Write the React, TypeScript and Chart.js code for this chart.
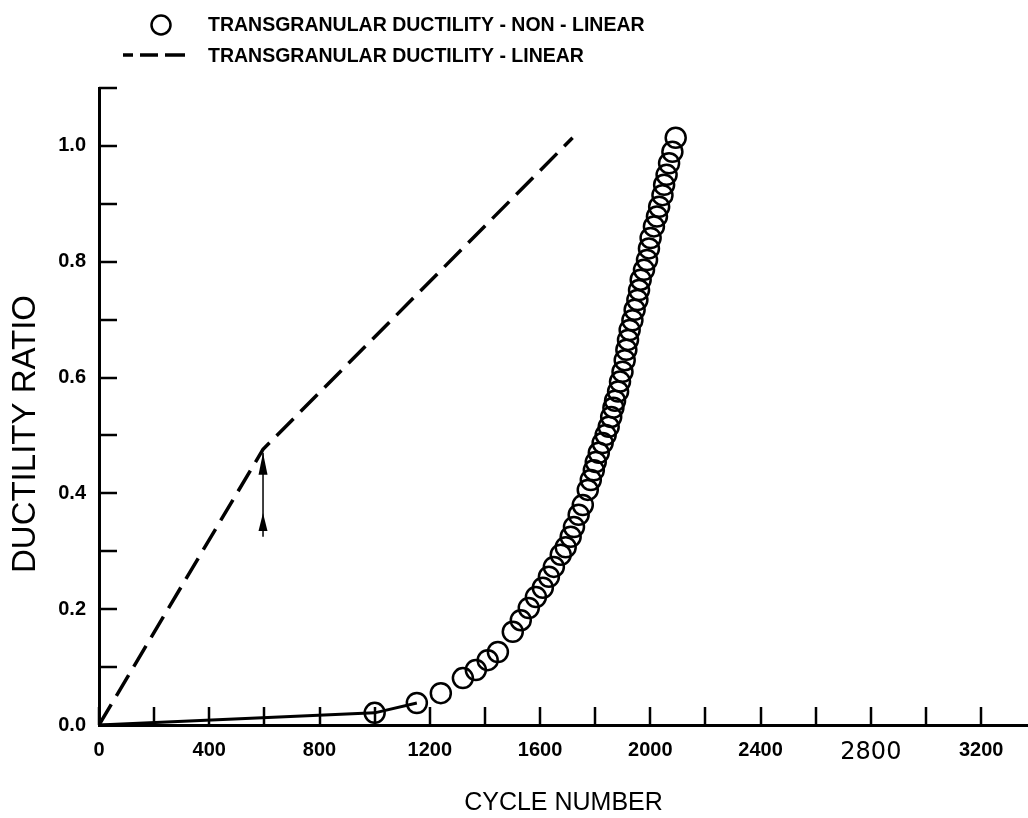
import { useEffect, useRef } from 'react';
import { Chart, registerables } from 'chart.js';

Chart.register(...registerables);

// ---- data ----
const seriesLabels = ['TRANSGRANULAR DUCTILITY - NON - LINEAR', 'TRANSGRANULAR DUCTILITY - LINEAR'];

const nonLinearCycles = [
  1000, 1153, 1240, 1320, 1367, 1410, 1447, 1501, 1530, 1559, 1585, 1610, 1632, 1650, 1675, 1693,
  1711, 1723, 1740, 1755, 1773, 1784, 1795, 1802, 1813, 1827, 1838, 1849, 1858, 1866, 1872, 1883,
  1890, 1899, 1907, 1913, 1919, 1925, 1935, 1943, 1953, 1959, 1965, 1977, 1988, 1995, 2001, 2013,
  2024, 2032, 2044, 2050, 2059, 2068, 2080, 2092,
];
const nonLinearRatio = [
  0.021, 0.038, 0.055, 0.081, 0.095, 0.112, 0.126, 0.161, 0.181, 0.202, 0.221, 0.237, 0.256, 0.273, 0.294, 0.307,
  0.325, 0.342, 0.363, 0.38, 0.406, 0.423, 0.44, 0.454, 0.47, 0.487, 0.501, 0.515, 0.532, 0.548, 0.56, 0.576,
  0.593, 0.61, 0.63, 0.648, 0.665, 0.682, 0.699, 0.717, 0.734, 0.751, 0.769, 0.786, 0.803, 0.823, 0.841, 0.861,
  0.878, 0.895, 0.915, 0.933, 0.95, 0.97, 0.99, 1.014,
];

const solidCycles = [0, 1000, 1153];
const solidRatio = [0, 0.021, 0.038];

const linearCycles = [0, 595, 1718];
const linearRatio = [0, 0.476, 1.014];

const arrowCycle = 595;
const arrowFrom = 0.325;
const arrowHeads = [0.47, 0.366];

const xTickValues = [0, 200, 400, 600, 800, 1000, 1200, 1400, 1600, 1800, 2000, 2200, 2400, 2600, 2800, 3000, 3200];
const xTickLabels = ['0', '400', '800', '1200', '1600', '2000', '2400', '2800', '3200'];
const yTickValues = [0, 0.1, 0.2, 0.3, 0.4, 0.5, 0.6, 0.7, 0.8, 0.9, 1.0, 1.1];
const yTickLabels = ['0.0', '0.2', '0.4', '0.6', '0.8', '1.0'];

const xTitle = 'CYCLE NUMBER';
const yTitle = 'DUCTILITY RATIO';

const FONT = '"Liberation Sans", Arial, Helvetica, sans-serif';

const decorations = {
  id: 'decorations',
  afterDatasetsDraw(chart: any) {
    const { ctx, chartArea } = chart;
    const xs = chart.scales.x;
    const ys = chart.scales.y;
    ctx.save();
    ctx.strokeStyle = '#000';
    ctx.fillStyle = '#000';
    // inward tick marks
    ctx.lineWidth = 2.5;
    xs.ticks.forEach((t: any) => {
      const px = Math.round(xs.getPixelForValue(t.value));
      ctx.beginPath();
      ctx.moveTo(px, chartArea.bottom);
      ctx.lineTo(px, chartArea.bottom - 18);
      ctx.stroke();
    });
    ys.ticks.forEach((t: any) => {
      const py = Math.round(ys.getPixelForValue(t.value));
      ctx.beginPath();
      ctx.moveTo(chartArea.left, py);
      ctx.lineTo(chartArea.left + 18, py);
      ctx.stroke();
    });
    // arrow
    const ax = xs.getPixelForValue(arrowCycle);
    const ay0 = ys.getPixelForValue(arrowFrom);
    const ay1 = ys.getPixelForValue(arrowHeads[0]);
    ctx.lineWidth = 1.5;
    ctx.beginPath();
    ctx.moveTo(ax, ay0);
    ctx.lineTo(ax, ay1);
    ctx.stroke();
    arrowHeads.forEach((v, i) => {
      const tip = ys.getPixelForValue(v);
      const len = i === 0 ? 22 : 18;
      ctx.beginPath();
      ctx.moveTo(ax, tip);
      ctx.lineTo(ax - 4.5, tip + len);
      ctx.lineTo(ax + 4.5, tip + len);
      ctx.closePath();
      ctx.fill();
    });
    ctx.restore();
  },
  afterDraw(chart: any) {
    const { ctx } = chart;
    ctx.save();
    ctx.strokeStyle = '#000';
    ctx.fillStyle = '#000';
    // legend
    ctx.lineWidth = 2.5;
    ctx.beginPath();
    ctx.arc(161, 25, 9.5, 0, Math.PI * 2);
    ctx.stroke();
    ctx.lineWidth = 3.5;
    [[123, 133], [140, 158], [165, 185]].forEach(([a, b]) => {
      ctx.beginPath();
      ctx.moveTo(a, 55);
      ctx.lineTo(b, 55);
      ctx.stroke();
    });
    ctx.font = `bold 19.5px ${FONT}`;
    ctx.textBaseline = 'middle';
    ctx.textAlign = 'left';
    ctx.fillText(chart.data.datasets[0].label, 208, 26);
    ctx.fillText(chart.data.datasets[1].label, 208, 57);
    // y title
    ctx.font = `33px ${FONT}`;
    ctx.translate(26, 434);
    ctx.rotate(-Math.PI / 2);
    ctx.textAlign = 'center';
    ctx.fillText(yTitle, 0, 0);
    ctx.restore();
  },
};

export default function App() {
  const ref = useRef<HTMLCanvasElement>(null);
  useEffect(() => {
    if (!ref.current) return;
    const chart = new Chart(ref.current, {
      type: 'scatter',
      data: {
        datasets: [
          {
            label: seriesLabels[0],
            data: nonLinearCycles.map((x, i) => ({ x, y: nonLinearRatio[i] })),
            showLine: false,
            pointStyle: 'circle',
            pointRadius: 10,
            pointBorderWidth: 2.5,
            borderColor: '#000',
            backgroundColor: 'rgba(0,0,0,0)',
          },
          {
            label: seriesLabels[1],
            data: linearCycles.map((x, i) => ({ x, y: linearRatio[i] })),
            showLine: true,
            borderDash: [24, 10],
            borderWidth: 3.5,
            borderColor: '#000',
            pointRadius: 0,
          },
          {
            label: 'solid',
            data: solidCycles.map((x, i) => ({ x, y: solidRatio[i] })),
            showLine: true,
            borderWidth: 3,
            borderColor: '#000',
            pointRadius: 0,
          },
        ],
      },
      options: {
        responsive: false,
        animation: false,
        devicePixelRatio: 1,
        layout: { autoPadding: false, padding: { top: 88, left: 0, right: 0, bottom: 0 } },
        plugins: { legend: { display: false }, tooltip: { enabled: false } },
        scales: {
          x: {
            type: 'linear',
            min: 0,
            max: 3370,
            afterFit: (s: any) => {
              s.height = 93;
              s.paddingLeft = 0;
              s.paddingRight = 0;
            },
            afterBuildTicks: (s: any) => { s.ticks = xTickValues.map((value) => ({ value })); },
            ticks: {
              padding: 13,
              color: '#000',
              font: (c: any) =>
                c.tick && c.tick.value === 2800
                  ? { family: '"DejaVu Sans", sans-serif', size: 24, weight: 'normal' }
                  : { family: FONT, size: 20, weight: 'bold' },
              callback: (v: any) => {
                const s = String(Math.round(Number(v)));
                return xTickLabels.includes(s) ? s : '';
              },
              maxRotation: 0,
              autoSkip: false,
            },
            grid: { display: true, drawOnChartArea: false, drawTicks: false },
            border: { display: true, width: 3, color: '#000' },
            title: {
              display: true,
              text: xTitle,
              color: '#000',
              font: { family: FONT, size: 25, weight: 'normal' },
              padding: { top: 0, bottom: 0 },
            },
          },
          y: {
            type: 'linear',
            min: 0,
            max: 1.1,
            afterFit: (s: any) => { s.width = 99; },
            afterBuildTicks: (s: any) => { s.ticks = yTickValues.map((value) => ({ value })); },
            ticks: {
              padding: 13,
              color: '#000',
              font: { family: FONT, size: 20, weight: 'bold' },
              callback: (v: any) => {
                const s = Number(v).toFixed(1);
                return yTickLabels.includes(s) ? s : '';
              },
              autoSkip: false,
            },
            grid: { display: true, drawOnChartArea: false, drawTicks: false },
            border: { display: true, width: 3, color: '#000' },
            title: { display: false, text: yTitle },
          },
        },
      },
      plugins: [decorations],
    });
    return () => chart.destroy();
  }, []);
  return (
    <div style={{ position: 'fixed', left: 0, top: 0, width: 1028, height: 818, background: '#fff' }}>
      <canvas ref={ref} width={1028} height={818} />
    </div>
  );
}
